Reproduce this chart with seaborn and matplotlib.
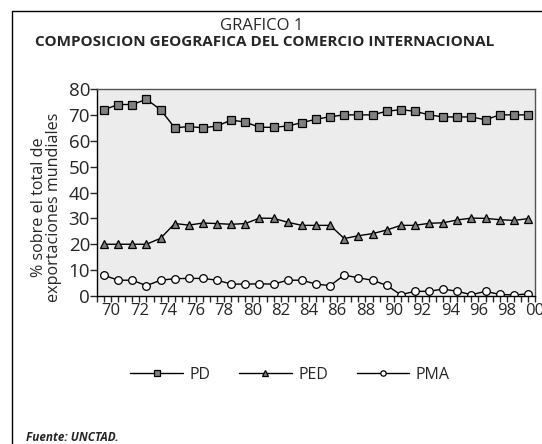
import matplotlib
matplotlib.use("Agg")
import matplotlib.pyplot as plt
from matplotlib.patches import Rectangle
from matplotlib.ticker import MultipleLocator, FixedLocator
import seaborn as sns
import pandas as pd

years = list(range(1970, 2001))
pd_vals = [72, 74, 74, 76, 72, 65, 65.5, 65, 65.7, 68, 67.2, 65.2, 65.2, 65.7, 67,
           68.3, 69.3, 70, 70, 70, 71.4, 72, 71.4, 70, 69.2, 69.2, 69.2, 68.1, 70, 70, 70]
ped_vals = [20, 20, 20, 20, 22.3, 28, 27.4, 28.2, 28, 27.7, 28, 30.1, 30, 28.5, 27.3,
            27.3, 27.3, 22.2, 23.3, 24.1, 25.5, 27.3, 27.3, 28.1, 28.3, 29.4, 30.1, 30, 29.5, 29.2, 29.9]
pma_vals = [8, 6.1, 6.1, 4, 6.1, 6.7, 6.8, 6.8, 6.1, 4.6, 4.6, 4.7, 4.6, 6.1, 6.1,
            4.6, 4.0, 8.1, 7.0, 6.1, 4.1, 0.5, 1.8, 1.8, 2.7, 1.8, 0.5, 1.8, 0.6, 0.4, 0.8]
series_names = ["PD", "PED", "PMA"]
xtick_labels = ["70", "72", "74", "76", "78", "80", "82", "84", "86", "88",
                "90", "92", "94", "96", "98", "00"]
y_ticks = [0, 10, 20, 30, 40, 50, 60, 70, 80]

sns.set_theme(style="white")
plt.rcParams["font.family"] = ["Open Sans", "DejaVu Sans"]

df = pd.DataFrame({"year": years * 3,
                   "value": pd_vals + ped_vals + pma_vals,
                   "serie": [series_names[0]] * len(years) + [series_names[1]] * len(years)
                            + [series_names[2]] * len(years)})

fig = plt.figure(figsize=(5.42, 4.44), dpi=100)
ax = fig.add_axes([97 / 542, 1 - 296 / 444, (535 - 97) / 542, (296 - 89) / 444])
ax.set_facecolor("#ececec")

styles = {
    "PD": dict(marker="s", markerfacecolor="#808080", markersize=6),
    "PED": dict(marker="^", markerfacecolor="#808080", markersize=5.5),
    "PMA": dict(marker="o", markerfacecolor="white", markersize=5.5),
}
for name in series_names:
    sub = df[df["serie"] == name]
    sns.lineplot(data=sub, x="year", y="value", ax=ax, color="black", linewidth=1,
                 markeredgecolor="black", markeredgewidth=0.9, label=name, **styles[name])

ax.set_xlim(1969.5, 2000.5)
ax.set_ylim(0, 80)
ax.set_yticks(y_ticks)
ax.tick_params(axis="y", labelsize=13.5, length=5, width=1, direction="out", pad=0, left=True)
label_pos = [int("19" + l) + 0.5 if l != "00" else 2000.5 for l in xtick_labels]
ax.xaxis.set_major_locator(FixedLocator(label_pos))
ax.set_xticklabels(xtick_labels)
ax.xaxis.set_minor_locator(MultipleLocator(0.5))
ax.tick_params(axis="x", which="both", length=4, width=1, direction="out", bottom=True)
ax.tick_params(axis="x", which="major", labelsize=12, pad=1)
ax.set_xlabel("")
ax.set_ylabel("% sobre el total de\nexportaciones mundiales", fontsize=11.6, linespacing=0.95)
ax.yaxis.set_label_coords((62 - 97) / 438, (296 - 207) / 207)
for s in ["top", "right"]:
    ax.spines[s].set_color("#555555")
    ax.spines[s].set_linewidth(1)
for s in ["left", "bottom"]:
    ax.spines[s].set_color("black")
    ax.spines[s].set_linewidth(1)

ax.legend_.remove()
handles, labels = ax.get_legend_handles_labels()
fig.legend(handles, labels, loc="center", bbox_to_anchor=(290 / 542, 1 - 375 / 444), ncol=3,
           frameon=False, fontsize=11.5, handlelength=3.3, columnspacing=1.8, handletextpad=0.4,
           markerscale=0.7)

fig.text(262 / 542, 1 - 25.5 / 444, "GRAFICO 1", ha="center", va="center", fontsize=12)
fig.text(265 / 542, 1 - 41.5 / 444, "COMPOSICION GEOGRAFICA DEL COMERCIO INTERNACIONAL",
         ha="center", va="center", fontsize=11, fontweight="bold")
fig.text(26 / 542, 1 - 437 / 444, "Fuente: UNCTAD.", ha="left", va="center", fontsize=8.5,
         fontweight="bold", fontstyle="italic")

fig.add_artist(Rectangle((12 / 542, -0.05), 1.2, 1 - 11 / 444 + 0.05, transform=fig.transFigure,
                         fill=False, edgecolor="black", linewidth=1))

fig.savefig("out.png", dpi=100)
